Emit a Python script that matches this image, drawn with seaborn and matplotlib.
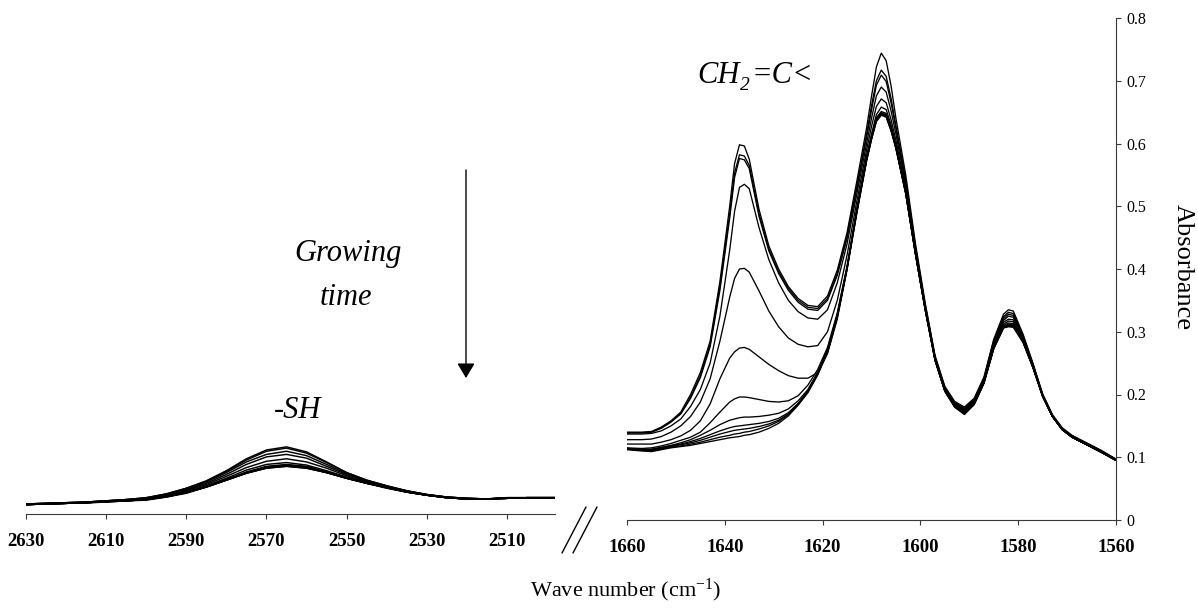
import numpy as np
import pandas as pd
import matplotlib
matplotlib.use("Agg")
import matplotlib.pyplot as plt
import seaborn as sns
from matplotlib.lines import Line2D

# ---------------- data ----------------
wn_left = [2630, 2625, 2620, 2615, 2610, 2605, 2600, 2595, 2590, 2585, 2580, 2575, 2570, 2565,
           2560, 2555, 2550, 2545, 2540, 2535, 2530, 2525, 2520, 2515, 2510, 2505, 2500, 2498]

sh_01 = [.016, .017, .018, .019, .021, .023, .026, .032, .041, .053, .069, .088, .102, .107, .099, .083, .066, .054, .045, .037, .031, .027, .025, .024, .026, .026, .026, .026]
sh_02 = [.016, .017, .018, .019, .021, .023, .026, .032, .041, .052, .068, .086, .100, .105, .097, .082, .066, .054, .045, .037, .031, .027, .025, .024, .026, .026, .026, .026]
sh_03 = [.016, .017, .018, .019, .021, .023, .025, .031, .039, .051, .066, .083, .095, .100, .093, .079, .064, .053, .044, .037, .031, .027, .025, .024, .026, .026, .026, .026]
sh_04 = [.016, .017, .018, .019, .021, .022, .025, .030, .038, .049, .063, .079, .091, .095, .089, .076, .063, .052, .044, .036, .031, .027, .025, .024, .026, .026, .026, .026]
sh_05 = [.015, .016, .017, .018, .020, .022, .024, .030, .037, .047, .060, .074, .084, .088, .083, .073, .061, .051, .043, .036, .030, .026, .024, .024, .025, .026, .026, .026]
sh_06 = [.015, .016, .017, .018, .020, .021, .024, .029, .035, .045, .057, .070, .079, .082, .078, .069, .059, .050, .042, .035, .030, .026, .024, .024, .025, .026, .026, .026]
sh_07 = [.015, .016, .017, .018, .020, .021, .023, .028, .035, .044, .055, .067, .076, .079, .076, .067, .058, .049, .042, .035, .030, .026, .024, .024, .025, .026, .026, .026]
sh_08 = [.015, .016, .017, .018, .020, .021, .023, .028, .034, .044, .055, .066, .075, .078, .075, .067, .057, .049, .042, .035, .030, .026, .024, .024, .025, .026, .026, .026]
sh_09 = [.015, .016, .017, .018, .020, .021, .023, .028, .034, .043, .054, .066, .074, .077, .074, .066, .057, .049, .042, .035, .030, .026, .024, .024, .025, .026, .026, .026]
sh_10 = [.015, .016, .017, .018, .019, .021, .023, .027, .034, .043, .054, .065, .074, .077, .074, .066, .057, .049, .042, .035, .030, .026, .024, .024, .025, .026, .026, .026]
sh_11 = [.015, .016, .017, .018, .019, .021, .022, .027, .033, .043, .054, .065, .073, .076, .073, .066, .057, .049, .041, .035, .030, .026, .024, .024, .025, .026, .026, .026]
sh_12 = [.015, .016, .017, .018, .020, .021, .023, .028, .034, .043, .054, .065, .073, .076, .073, .066, .057, .049, .042, .035, .030, .026, .024, .024, .025, .026, .026, .026]

wn_right = [1660, 1657, 1655, 1653, 1651, 1649, 1647, 1645, 1643, 1641, 1639, 1638, 1637, 1636,
            1635, 1633, 1631, 1629, 1627, 1625, 1623, 1621, 1619, 1617, 1615, 1613, 1611, 1610,
            1609, 1608, 1607, 1606, 1605, 1603, 1601, 1599, 1597, 1595, 1593, 1591, 1589, 1587,
            1585, 1583, 1582, 1581, 1579, 1577, 1575, 1573, 1571, 1569, 1567, 1565, 1563, 1560]

cc_01 = [.140, .140, .141, .148, .158, .172, .200, .235, .285, .380, .500, .568, .598, .596, .575, .495, .437, .400, .372, .353, .342, .340, .357, .398, .458, .540, .625, .675, .722, .744, .732, .692, .640, .550, .440, .345, .262, .213, .189, .180, .194, .228, .288, .328, .335, .333, .296, .250, .201, .168, .147, .135, .127, .119, .111, .097]
cc_02 = [.139, .139, .140, .147, .157, .170, .196, .230, .280, .372, .488, .553, .582, .580, .565, .488, .432, .396, .369, .350, .339, .337, .353, .393, .452, .532, .615, .660, .700, .717, .707, .672, .628, .542, .435, .342, .260, .211, .187, .178, .192, .226, .286, .324, .331, .329, .294, .249, .200, .167, .146, .134, .126, .118, .110, .097]
cc_03 = [.139, .139, .140, .146, .156, .169, .194, .227, .276, .366, .481, .546, .576, .574, .560, .484, .429, .393, .366, .347, .336, .334, .350, .390, .449, .528, .610, .653, .693, .709, .699, .665, .624, .539, .433, .341, .259, .210, .186, .177, .191, .225, .284, .321, .328, .326, .292, .248, .199, .166, .146, .134, .126, .118, .110, .096]
cc_04 = [.137, .137, .138, .142, .150, .161, .181, .208, .250, .325, .430, .492, .530, .535, .528, .466, .415, .378, .350, .332, .322, .320, .335, .378, .440, .520, .600, .640, .676, .690, .682, .652, .615, .534, .430, .339, .258, .209, .185, .176, .190, .224, .282, .318, .325, .323, .290, .247, .199, .166, .145, .133, .125, .117, .109, .096]
cc_05 = [.128, .128, .129, .133, .140, .150, .165, .188, .225, .285, .355, .385, .400, .401, .395, .365, .333, .308, .290, .280, .276, .278, .300, .350, .422, .508, .590, .627, .659, .671, .665, .638, .605, .528, .427, .337, .257, .208, .184, .175, .189, .222, .280, .315, .320, .319, .288, .246, .198, .165, .145, .133, .125, .117, .109, .096]
cc_06 = [.121, .121, .121, .124, .128, .134, .143, .158, .185, .225, .258, .268, .274, .275, .272, .260, .248, .238, .230, .226, .226, .235, .265, .320, .400, .495, .580, .615, .646, .658, .654, .630, .598, .524, .425, .336, .256, .207, .183, .174, .188, .221, .278, .312, .317, .316, .286, .245, .197, .165, .144, .132, .124, .116, .108, .095]
cc_07 = [.115, .114, .115, .118, .122, .127, .132, .140, .155, .172, .188, .193, .196, .196, .195, .192, .189, .188, .190, .198, .215, .240, .275, .330, .405, .495, .578, .612, .641, .651, .648, .625, .595, .522, .424, .335, .255, .206, .182, .173, .187, .220, .276, .310, .314, .313, .285, .244, .197, .165, .144, .132, .124, .116, .108, .095]
cc_08 = [.114, .113, .113, .116, .119, .123, .128, .135, .143, .152, .159, .161, .163, .164, .164, .165, .167, .170, .177, .190, .208, .236, .272, .328, .403, .493, .576, .610, .639, .649, .646, .624, .594, .521, .424, .335, .255, .206, .182, .172, .186, .219, .275, .309, .312, .311, .284, .244, .197, .165, .144, .132, .124, .116, .108, .095]
cc_09 = [.114, .112, .112, .115, .118, .121, .125, .130, .136, .142, .147, .149, .150, .151, .152, .154, .157, .162, .171, .186, .206, .234, .270, .326, .402, .492, .575, .609, .638, .648, .645, .623, .593, .521, .424, .335, .255, .206, .181, .171, .185, .219, .274, .308, .311, .310, .284, .244, .197, .165, .144, .132, .124, .116, .108, .095]
cc_10 = [.113, .111, .111, .114, .117, .120, .123, .127, .132, .137, .141, .143, .144, .145, .146, .149, .153, .159, .169, .185, .205, .233, .269, .325, .401, .491, .574, .608, .637, .647, .644, .622, .593, .521, .424, .335, .255, .206, .181, .170, .185, .219, .274, .307, .310, .309, .284, .244, .197, .165, .144, .132, .124, .116, .108, .095]
cc_11 = [.113, .111, .110, .113, .116, .118, .121, .124, .128, .132, .135, .137, .138, .140, .141, .145, .150, .157, .168, .184, .204, .232, .268, .324, .400, .490, .573, .607, .636, .646, .643, .621, .592, .520, .423, .334, .254, .205, .180, .169, .184, .218, .273, .306, .309, .308, .283, .243, .197, .165, .144, .132, .124, .116, .108, .095]
cc_12 = [.112, .110, .109, .112, .115, .117, .119, .122, .125, .128, .131, .132, .133, .135, .136, .140, .146, .154, .166, .183, .203, .231, .267, .323, .399, .489, .572, .606, .635, .645, .642, .620, .592, .520, .423, .334, .254, .205, .180, .168, .184, .218, .273, .306, .308, .307, .283, .243, .197, .165, .144, .132, .124, .116, .108, .095]

ticks_left = [2630, 2610, 2590, 2570, 2550, 2530, 2510]
ticks_right = [1660, 1640, 1620, 1600, 1580, 1560]
ticks_y = [0, 0.1, 0.2, 0.3, 0.4, 0.5, 0.6, 0.7, 0.8]
ticklabels_y = ["0", "0.1", "0.2", "0.3", "0.4", "0.5", "0.6", "0.7", "0.8"]

# ---------------- tidy tables ----------------
sh_list = [sh_01, sh_02, sh_03, sh_04, sh_05, sh_06, sh_07, sh_08, sh_09, sh_10, sh_11, sh_12]
cc_list = [cc_01, cc_02, cc_03, cc_04, cc_05, cc_06, cc_07, cc_08, cc_09, cc_10, cc_11, cc_12]
df_left = pd.concat([pd.DataFrame({"wn": wn_left, "a": v, "curve": i}) for i, v in enumerate(sh_list)])
df_right = pd.concat([pd.DataFrame({"wn": wn_right, "a": v, "curve": i}) for i, v in enumerate(cc_list)])

# ---------------- style ----------------
sns.set_style("white")
plt.rcParams["font.family"] = ["Liberation Serif", "DejaVu Serif"]
plt.rcParams["mathtext.default"] = "regular"
plt.rcParams["text.color"] = "black"
plt.rcParams["xtick.color"] = "black"
plt.rcParams["ytick.color"] = "black"
plt.rcParams["axes.labelcolor"] = "black"

W, H = 1198, 608
fig = plt.figure(figsize=(W / 100, H / 100), dpi=100)
axL = fig.add_axes([26 / W, (H - 514) / H, 529 / W, 502 / H])
axR = fig.add_axes([627 / W, (H - 520) / H, 489 / W, 502 / H])

sns.lineplot(data=df_left, x="wn", y="a", units="curve", estimator=None, color="black",
             lw=1.05, ax=axL, legend=False)
sns.lineplot(data=df_right, x="wn", y="a", units="curve", estimator=None, color="black",
             lw=0.95, ax=axR, legend=False)

spine_col = "#3a3a3a"
for ax in (axL, axR):
    ax.set_xlabel("")
    ax.set_ylabel("")
    ax.set_ylim(0, 0.8)
    ax.patch.set_alpha(0)
    for s in ax.spines.values():
        s.set_visible(False)
    ax.spines["bottom"].set_visible(True)
    ax.spines["bottom"].set_color(spine_col)
    ax.spines["bottom"].set_linewidth(0.8)
    ax.tick_params(axis="x", direction="out", length=3.5, width=0.8, color=spine_col,
                   labelcolor="black", labelsize=13.5, pad=10, bottom=True)

axL.set_xlim(2630, 2498)
axL.set_xticks(ticks_left)
axL.set_xticklabels([str(t) for t in ticks_left], fontweight="bold")
axL.set_yticks([])

axR.set_xlim(1660, 1560)
axR.set_xticks(ticks_right)
axR.set_xticklabels([str(t) for t in ticks_right], fontweight="bold")
axR.spines["right"].set_visible(True)
axR.spines["right"].set_color(spine_col)
axR.spines["right"].set_linewidth(0.8)
axR.yaxis.tick_right()
axR.set_yticks(ticks_y)
axR.set_yticklabels(ticklabels_y)
axR.tick_params(axis="y", direction="out", length=3.5, width=0.8, color=spine_col,
                labelcolor="black", labelsize=11.5, pad=4, right=True, left=False)

# ---------------- texts ----------------
def fx(px):
    return px / W

def fy(py):
    return 1 - py / H

fig.text(fx(1183), fy(267), "Absorbance", rotation=-90, ha="center", va="center", fontsize=19)
fig.text(fx(626), fy(590), "Wave number (cm$^{-1}$)", ha="center", va="center", fontsize=16)
fig.text(fx(348), fy(253), "Growing", ha="center", va="center", fontsize=22, style="italic")
fig.text(fx(346), fy(298), "time", ha="center", va="center", fontsize=22, style="italic")
fig.text(fx(298), fy(410), "-SH", ha="center", va="center", fontsize=22, style="italic")

# CH2=C< built from three pieces so the subscript sits cleanly after the H
renderer = fig.canvas.get_renderer()
t1 = fig.text(fx(697), fy(83), "CH", ha="left", va="baseline", fontsize=22, style="italic")
bb1 = t1.get_window_extent(renderer)
t2 = fig.text((bb1.x1 + 1) / W, fy(90), "2", ha="left", va="baseline", fontsize=14, style="italic")
bb2 = t2.get_window_extent(renderer)
fig.text((bb2.x1 + 1) / W, fy(83), "=C<", ha="left", va="baseline", fontsize=22, style="italic")

fig.add_artist(matplotlib.patches.FancyArrowPatch(
    (fx(466), fy(170)), (fx(466), fy(378)), transform=fig.transFigure,
    arrowstyle="-|>,head_length=0.45,head_width=0.27", mutation_scale=20,
    color="black", lw=1.0, shrinkA=0, shrinkB=0))

# axis break marks
fig.add_artist(Line2D([fx(562), fx(586)], [fy(553), fy(507)], transform=fig.transFigure,
                      color="black", lw=1.0))
fig.add_artist(Line2D([fx(573), fx(597)], [fy(553), fy(507)], transform=fig.transFigure,
                      color="black", lw=1.0))

fig.savefig("out.png", dpi=100)
